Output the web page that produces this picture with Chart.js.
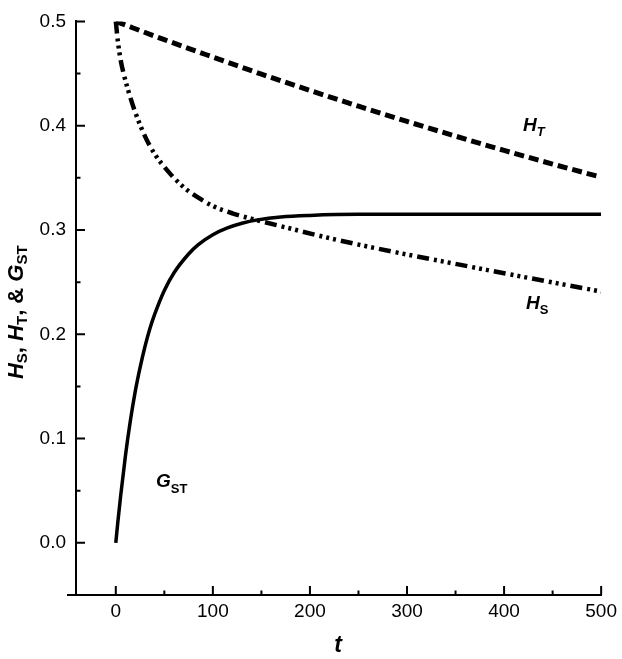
<!DOCTYPE html>
<html lang="en">
<head>
<meta charset="UTF-8">
<title>HS, HT and GST versus t</title>
<script src="https://cdn.jsdelivr.net/npm/chart.js"></script>
<style>
    body { margin: 0; background: #fff; }
    canvas { display: block; }
</style>
</head>
<body>
<canvas id="chart" width="622" height="659"></canvas>
<script>
    // values
    const tHT = [0, 50, 100, 150, 200, 250, 300, 350, 400, 450, 500];
    const valHT = [0.5, 0.4825, 0.4658, 0.4494, 0.4338, 0.4187, 0.4041, 0.390, 0.3763, 0.3632, 0.3506];

    const tHS = [0, 2, 5, 10, 15, 20, 30, 40, 55, 70, 85, 100, 120, 145, 175, 214, 250, 289, 350, 400, 450, 500];
    const valHS = [0.5, 0.482, 0.463, 0.443, 0.427, 0.413, 0.390, 0.373, 0.355, 0.341, 0.331, 0.323, 0.316, 0.3095, 0.3025, 0.2935, 0.286, 0.2785, 0.2675, 0.2585, 0.2497, 0.241];

    const tGST = [0, 2, 5, 10, 15, 20, 25, 30, 35, 40, 50, 60, 75, 85, 100, 115, 130, 146, 170, 200, 250, 300, 400, 500];
    const valGST = [0, 0.019, 0.045, 0.084, 0.117, 0.145, 0.168, 0.188, 0.205, 0.219, 0.242, 0.259, 0.277, 0.286, 0.2955, 0.302, 0.3065, 0.3097, 0.3125, 0.314, 0.315, 0.315, 0.315, 0.315];

    const xTicks = [0, 100, 200, 300, 400, 500];
    const xMinor = [50, 150, 250, 350, 450];
    const yTicks = [0.0, 0.1, 0.2, 0.3, 0.4, 0.5];
    const yMinor = [0.05, 0.15, 0.25, 0.35, 0.45];

    const FONT = '"Liberation Sans", Arial, sans-serif';
    Chart.defaults.font.family = FONT;
    Chart.defaults.color = '#000';

    function points(ts, vs) {
        return ts.map((t, i) => ({ x: t, y: vs[i] }));
    }

    // text made of pieces with different fonts / baseline shifts
    function richWidth(ctx, parts) {
        let w = 0;
        parts.forEach(p => { ctx.font = p.font; w += ctx.measureText(p.text).width; });
        return w;
    }
    function drawRich(ctx, parts, x, y) {
        let cx = x;
        parts.forEach(p => {
            ctx.font = p.font;
            ctx.fillText(p.text, cx, y + (p.dy || 0));
            cx += ctx.measureText(p.text).width;
        });
    }

    const big = 'italic bold 19px ' + FONT;
    const sub = 'bold 13px ' + FONT;
    const subIt = 'italic bold 13px ' + FONT;

    const decorations = {
        id: 'decorations',
        afterDraw(chart) {
            const ctx = chart.ctx;
            const xs = chart.scales.x, ys = chart.scales.y;
            const a = chart.chartArea;
            ctx.save();
            ctx.strokeStyle = '#000';
            ctx.lineWidth = 2;
            ctx.beginPath();
            xTicks.forEach(v => { const p = xs.getPixelForValue(v); ctx.moveTo(p, a.bottom); ctx.lineTo(p, a.bottom - 9); });
            xMinor.forEach(v => { const p = xs.getPixelForValue(v); ctx.moveTo(p, a.bottom); ctx.lineTo(p, a.bottom - 4.5); });
            yTicks.forEach(v => { const p = ys.getPixelForValue(v); ctx.moveTo(a.left, p); ctx.lineTo(a.left + 9, p); });
            yMinor.forEach(v => { const p = ys.getPixelForValue(v); ctx.moveTo(a.left, p); ctx.lineTo(a.left + 4.5, p); });
            // x axis line runs a little past the y axis
            ctx.moveTo(a.left - 9, a.bottom);
            ctx.lineTo(a.left, a.bottom);
            ctx.stroke();

            ctx.fillStyle = '#000';
            ctx.textBaseline = 'alphabetic';
            ctx.textAlign = 'left';

            // curve labels
            drawRich(ctx, [{ text: 'H', font: big }, { text: 'T', font: subIt, dy: 5 }], 523, 131);
            drawRich(ctx, [{ text: 'H', font: big }, { text: 'S', font: sub, dy: 5 }], 526, 309);
            drawRich(ctx, [{ text: 'G', font: big }, { text: 'ST', font: sub, dy: 6 }], 156, 487);

            // x title
            ctx.font = 'italic bold 23px ' + FONT;
            ctx.textAlign = 'center';
            ctx.fillText('t', 338, 652);
            ctx.textAlign = 'left';

            // y title
            const b = 'italic bold 22px ' + FONT;
            const bu = 'bold 22px ' + FONT;
            const s = 'bold 15px ' + FONT;
            const parts = [
                { text: 'H', font: b }, { text: 'S', font: s, dy: 4 },
                { text: ', ', font: bu },
                { text: 'H', font: b }, { text: 'T', font: s, dy: 4 },
                { text: ', & ', font: bu },
                { text: 'G', font: b }, { text: 'ST', font: s, dy: 4 }
            ];
            const w = richWidth(ctx, parts);
            ctx.translate(23, (a.top + a.bottom) / 2 + 4);
            ctx.rotate(-Math.PI / 2);
            drawRich(ctx, parts, -w / 2, 0);
            ctx.restore();
        }
    };

    new Chart(document.getElementById('chart'), {
        type: 'line',
        data: {
            datasets: [
                {
                    label: 'HT',
                    data: points(tHT, valHT),
                    borderColor: '#000',
                    borderWidth: 5,
                    borderDash: [10, 5],
                    borderCapStyle: 'butt'
                },
                {
                    label: 'HS',
                    data: points(tHS, valHS),
                    borderColor: '#000',
                    borderWidth: 4.5,
                    borderDash: [12, 5, 3, 4, 3, 4, 3, 5],
                    borderCapStyle: 'butt'
                },
                {
                    label: 'GST',
                    data: points(tGST, valGST),
                    borderColor: '#000',
                    borderWidth: 3.5
                }
            ]
        },
        options: {
            responsive: false,
            animation: false,
            elements: {
                point: { radius: 0 },
                line: { cubicInterpolationMode: 'monotone', fill: false }
            },
            layout: { padding: { top: 13, right: 15, left: 0, bottom: 0 } },
            plugins: { legend: { display: false }, tooltip: { enabled: false } },
            scales: {
                x: {
                    type: 'linear',
                    min: -41,
                    max: 500,
                    afterBuildTicks: s => { s.ticks = xTicks.map(v => ({ value: v })); },
                    afterFit: s => { s.height = 64; },
                    grid: { drawOnChartArea: false, drawTicks: false },
                    border: { display: true, color: '#000', width: 2 },
                    ticks: { padding: 5, font: { size: 19 }, color: '#000' }
                },
                y: {
                    type: 'linear',
                    min: -0.05,
                    max: 0.5,
                    afterBuildTicks: s => { s.ticks = yTicks.map(v => ({ value: v })); },
                    afterFit: s => { s.width = 76; },
                    grid: { drawOnChartArea: false, drawTicks: false },
                    border: { display: true, color: '#000', width: 2 },
                    ticks: { padding: 10, font: { size: 19 }, color: '#000', callback: v => v.toFixed(1) }
                }
            }
        },
        plugins: [decorations]
    });
</script>
</body>
</html>
